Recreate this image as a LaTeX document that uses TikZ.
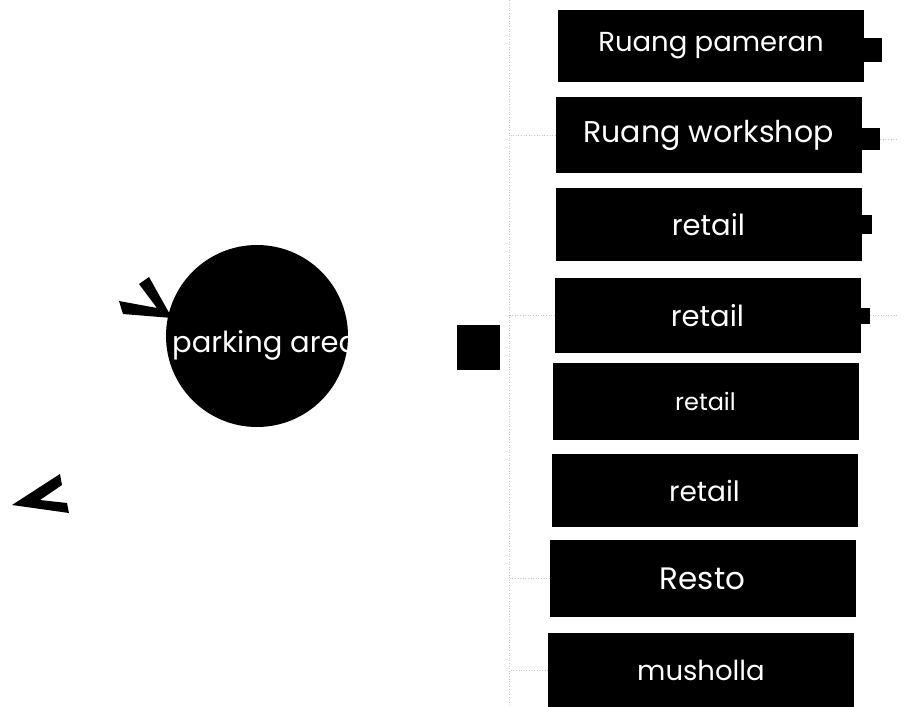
\documentclass[tikz,border=0pt]{standalone}
\usepackage{fontspec}
\setmainfont{Poppins}
\usepackage{tikz}
\tikzset{
  room/.style={fill=black,text=white,inner sep=0pt,minimum width=306pt,minimum height=75pt},
  roomtab/.style={fill=black,inner sep=0pt},
  faint/.style={gray!45,dotted,line width=.6pt}
}
\newcommand{\roomfont}[1]{\fontsize{#1}{#1}\selectfont}

\begin{document}
\begin{tikzpicture}[x=1pt,y=-1pt]
\path[use as bounding box] (0,0) rectangle (911,707);
% faint guide lines
\coordinate (spinetop) at (509,0);
\coordinate (spinebot) at (509,707);
\draw[faint] (spinetop) -- (spinebot);
% rooms
\node[room,minimum height=72pt] (pameran) at (711,46) {\roomfont{27.5pt}Ruang pameran};
\node[room,minimum height=76pt] (workshop) at (708.5,135) {\roomfont{30pt}Ruang workshop};
\node[room,minimum height=73pt] (retailA) at (708.5,224.5) {\roomfont{29pt}retail};
\node[room] (retailB) at (707.5,315.5) {\roomfont{29pt}retail};
\node[room,minimum height=77pt] (retailC) at (705.5,401.5) {\roomfont{24pt}retail};
\node[room,minimum height=73pt] (retailD) at (704.5,490.5) {\roomfont{28pt}retail};
\node[room,minimum height=77pt] (resto) at (702.5,578.5) {\roomfont{31pt}Resto};
\node[room] (musholla) at (701,670.5) {\roomfont{27.5pt}musholla};
% tabs
\node[roomtab,minimum width=18pt,minimum height=24pt,anchor=west] (tabA) at ([yshift=-4pt]pameran.east) {};
\node[roomtab,minimum width=18pt,minimum height=22pt,anchor=west] (tabB) at ([yshift=-4pt]workshop.east) {};
\node[roomtab,minimum width=10pt,minimum height=19pt,anchor=west] (tabC) at (retailA.east) {};
\node[roomtab,minimum width=9pt,minimum height=16pt,anchor=west] (tabD) at (retailB.east) {};
\draw[faint] (workshop.west) -- (spinetop|-workshop.west);
\draw[faint] (retailB.west) -- (spinetop|-retailB.west);
\draw[faint] (resto.west) -- (spinetop|-resto.west);
\draw[faint] (musholla.west) -- (spinetop|-musholla.west);
\draw[faint] (tabB.east) -- ++(16,0);
\draw[faint] (tabD.east) -- ++(28,0);
% parking and square
\node[circle,fill=black,inner sep=0pt,minimum size=182pt] (parking) at (257,336) {};
\node[anchor=base west,text=white,inner sep=0pt] (parklabel) at (172,352) {\roomfont{29pt}parking area};
\node[fill=black,inner sep=0pt,minimum width=43pt,minimum height=45pt] (block) at (478.5,347.5) {};
% entry marks
\fill (119,301) -- (157,308) -- (139,284) -- (149,277) -- (172,318) -- (123,314) -- cycle;
\fill (12,505) -- (60,474) -- (62,485) -- (40,500) -- (67,503) -- (69,513) -- cycle;
\end{tikzpicture}
\end{document}
